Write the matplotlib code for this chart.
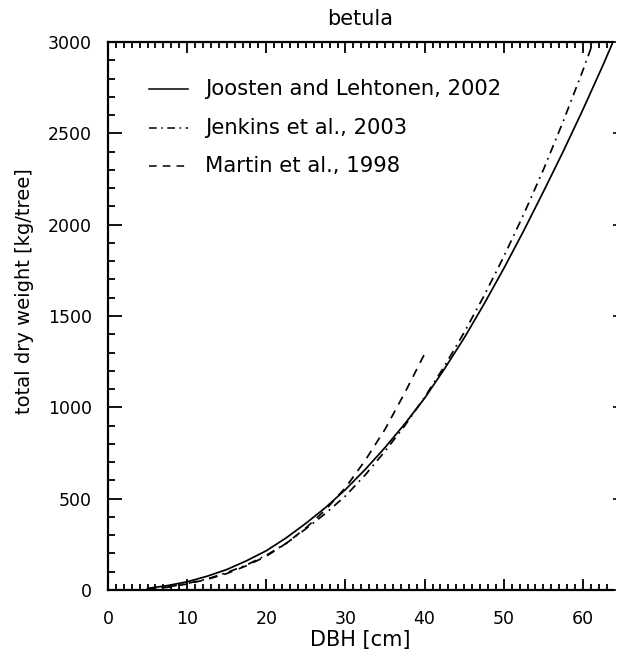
import numpy as np
import matplotlib
matplotlib.use('Agg')
import matplotlib.pyplot as plt
from matplotlib.ticker import MultipleLocator

# total dry weight of birch vs diameter at breast height, three allometric models
dbh_joosten = [5, 7.5, 10, 12.5, 15, 17.5, 20, 22.5, 25, 27.5, 30, 32.5, 35,
               37.5, 40, 42.5, 45, 47.5, 50, 52.5, 55, 57.5, 60, 62.5, 63.8]
w_joosten = [9, 24, 45, 75, 112, 160, 215, 285, 365, 452, 550, 660, 780,
             910, 1050, 1210, 1380, 1565, 1760, 1965, 2180, 2400, 2630, 2870, 3000]

dbh_jenkins = [5, 7.5, 10, 12.5, 15, 17.5, 20, 22.5, 25, 27.5, 30, 32.5, 35,
               37.5, 40, 42.5, 45, 47.5, 50, 52.5, 55, 57.5, 60, 61.3]
w_jenkins = [6, 16, 36, 60, 95, 137, 190, 255, 335, 420, 515, 630, 760,
             900, 1055, 1225, 1410, 1610, 1825, 2055, 2300, 2565, 2845, 3000]

dbh_martin = [5, 7.5, 10, 12.5, 15, 17.5, 20, 22.5, 25, 27.5, 30, 32.5, 35, 37.5, 40.2]
w_martin = [5, 15, 33, 58, 90, 133, 185, 255, 340, 440, 560, 710, 880, 1080, 1310]

labels = ['Joosten and Lehtonen, 2002', 'Jenkins et al., 2003', 'Martin et al., 1998']

plt.rcParams['font.family'] = 'DejaVu Sans'

fig = plt.figure(figsize=(6.17, 6.54), dpi=100)
ax = fig.add_axes([108/617, 64/654, 505/617, 548/654])

lw = 1.25
dashdot = (0, (5, 3, 1, 3))
dashed = (0, (5, 4))
ax.plot(dbh_joosten, w_joosten, color='k', lw=lw, linestyle='-')
ax.plot(dbh_jenkins, w_jenkins, color='k', lw=lw, linestyle=dashdot)
ax.plot(dbh_martin, w_martin, color='k', lw=lw, linestyle=dashed)

ax.set_xlim(0, 63.8)
ax.set_ylim(0, 3000)
ax.xaxis.set_major_locator(MultipleLocator(10))
ax.xaxis.set_minor_locator(MultipleLocator(1))
ax.yaxis.set_major_locator(MultipleLocator(500))
ax.yaxis.set_minor_locator(MultipleLocator(100))

for s in ['left', 'bottom', 'top']:
    ax.spines[s].set_linewidth(1.6)
ax.spines['right'].set_visible(False)

ax.tick_params(axis='both', which='both', direction='in', width=1.3, labelsize=12.5)
ax.tick_params(axis='x', which='major', length=8, top=True, pad=14.5)
ax.tick_params(axis='x', which='minor', length=4, top=True)
ax.tick_params(axis='y', which='major', length=10, pad=11.5)
ax.tick_params(axis='y', which='minor', length=5)

# short marks on the right side, no spine
sec = ax.secondary_yaxis('right')
sec.spines['right'].set_visible(False)
sec.yaxis.set_major_locator(MultipleLocator(500))
sec.tick_params(axis='y', which='major', direction='out', length=2.5, width=1.2, labelright=False)
sec.tick_params(axis='y', which='minor', length=0)

ax.set_title('betula', fontsize=15, pad=12)
ax.set_xlabel('DBH [cm]', fontsize=15, labelpad=1)
ax.set_ylabel('total dry weight [kg/tree]', fontsize=14)
ax.yaxis.set_label_coords(-0.147, 0.546)

# legend drawn by hand, IDL style
styles = ['-', dashdot, dashed]
for i, (lab, ls) in enumerate(zip(labels, styles)):
    yl = 2742 - i * 211
    ax.plot([5.2, 10.1], [yl, yl], color='k', lw=1.1, linestyle=ls)
    ax.text(12.2, yl, lab, fontsize=15.2, va='center', ha='left')

fig.savefig('out.png', dpi=100)
